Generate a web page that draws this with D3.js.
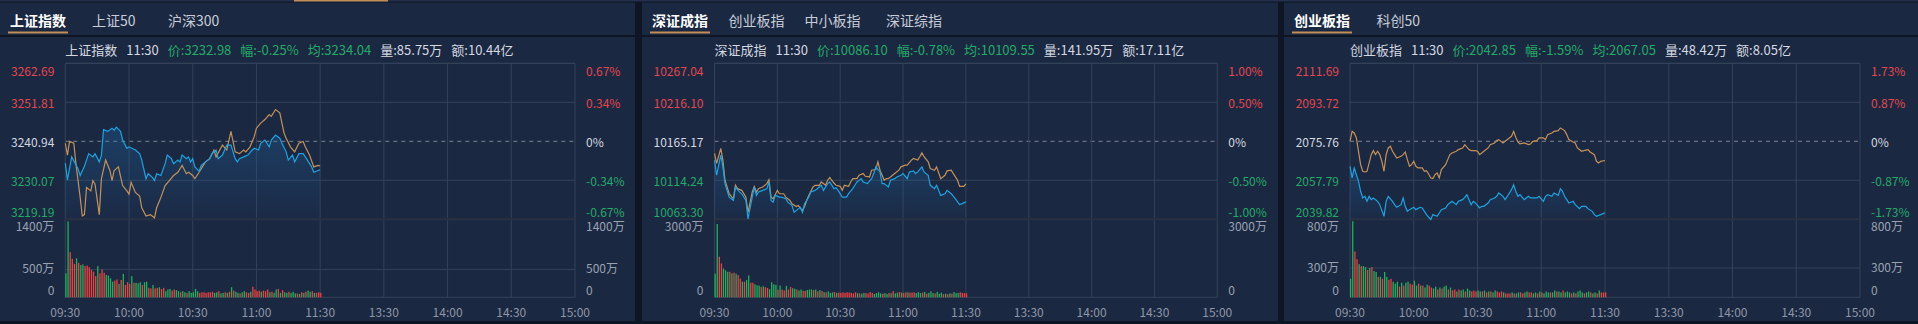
<!DOCTYPE html>
<html><head><meta charset="utf-8">
<script src="https://cdn.jsdelivr.net/npm/d3@7"></script>
<style>
html,body{margin:0;padding:0;background:#0e1524;overflow:hidden}
svg{display:block;font-family:"Noto Sans CJK SC","Noto Sans",sans-serif}
</style>
</head><body>
<svg id="c" width="1918" height="324"></svg>
<script>
// ---------- DATA ----------
const timeTicks = [0, 30, 60, 90, 120, 150, 180, 210, 240];
const timeLabels = ["09:30", "10:00", "10:30", "11:00", "11:30", "13:30", "14:00", "14:30", "15:00"];

// Panel 1: 上证指数
const shTabs = ["上证指数", "上证50", "沪深300"];
const shInfo = [["上证指数", "n"], ["11:30", "n"], ["价:3232.98", "g"], ["幅:-0.25%", "g"], ["均:3234.04", "g"], ["量:85.75万", "n"], ["额:10.44亿", "n"]];
const shPriceTicks = [3219.19, 3230.07, 3240.94, 3251.81, 3262.69];
const shPriceLabels = ["3219.19", "3230.07", "3240.94", "3251.81", "3262.69"];
const shPctLabels = ["-0.67%", "-0.34%", "0%", "0.34%", "0.67%"];
const shVolTicks = [0, 500, 1400];
const shVolLabels = ["0", "500万", "1400万"];
const shPrice = [[0,3234.9],[1,3230.2],[3,3236.6],[6,3233.3],[7,3231.4],[9,3234.0],[11,3237.5],[13,3236.6],[14,3237.5],[16,3235.2],[17,3237.0],[18,3244.2],[20,3243.7],[22,3244.6],[23,3244.0],[24,3244.9],[26,3243.7],[27,3241.3],[29,3239.0],[30,3239.4],[33,3238.5],[35,3237.5],[36,3235.7],[38,3230.5],[39,3231.9],[41,3230.9],[42,3230.0],[43,3231.9],[45,3231.4],[47,3234.7],[48,3237.1],[50,3236.1],[51,3234.7],[53,3235.7],[54,3235.2],[55,3237.1],[57,3236.1],[58,3236.6],[59,3235.2],[60,3236.1],[61,3233.8],[63,3232.6],[64,3234.2],[66,3235.2],[68,3236.1],[69,3237.5],[71,3238.5],[72,3236.1],[74,3237.1],[76,3239.9],[78,3239.9],[80,3236.1],[81,3235.2],[82,3236.1],[84,3236.6],[86,3237.1],[88,3238.5],[89,3239.0],[91,3238.5],[92,3240.4],[94,3241.3],[96,3239.4],[97,3241.3],[99,3242.7],[101,3241.8],[102,3240.4],[104,3238.0],[105,3235.7],[107,3237.1],[108,3235.2],[110,3237.5],[112,3237.5],[114,3235.7],[116,3233.8],[117,3232.3],[119,3232.8],[120,3232.98]];
const shAvg = [[0,3240.4],[1,3237.1],[2,3240.9],[4,3240.4],[5,3234.7],[7,3225.3],[8,3220.1],[9,3220.5],[10,3228.1],[12,3227.1],[13,3230.0],[14,3229.0],[16,3220.5],[17,3230.5],[19,3235.7],[21,3232.8],[22,3230.0],[23,3232.8],[25,3233.8],[27,3228.6],[29,3227.1],[30,3226.2],[31,3229.5],[33,3226.7],[35,3225.7],[36,3222.4],[38,3220.1],[40,3220.5],[42,3219.6],[43,3222.4],[45,3225.3],[47,3228.6],[49,3230.0],[51,3231.4],[53,3232.3],[55,3234.2],[57,3231.9],[58,3232.3],[60,3231.4],[61,3230.5],[63,3232.3],[66,3235.2],[68,3236.1],[70,3238.5],[71,3236.6],[74,3239.9],[76,3238.5],[78,3243.7],[80,3238.0],[82,3237.5],[84,3238.5],[85,3238.0],[87,3239.4],[89,3242.3],[90,3244.6],[92,3246.0],[94,3247.0],[96,3248.4],[97,3247.9],[99,3249.8],[101,3248.9],[103,3243.2],[104,3241.8],[106,3239.4],[108,3238.0],[110,3240.4],[112,3240.9],[113,3239.4],[115,3237.1],[117,3233.8],[119,3234.2],[120,3234.04]];
const shVol = [430,1360,810,690,600,700,620,580,590,560,570,
  540,490,460,380,560,430,500,440,400,390,
  340,280,300,320,240,310,420,220,270,240,
  380,260,260,250,270,220,270,280,170,160,
  220,160,170,180,150,170,110,140,150,120,
  140,130,110,90,110,90,80,110,80,90,
  150,110,80,90,90,80,90,90,100,80,
  90,110,70,80,90,80,100,180,120,100,
  80,70,90,110,90,80,100,190,140,110,
  120,100,120,110,140,90,100,80,140,150,
  80,130,90,80,100,80,100,70,70,60,
  90,80,100,120,100,110,80,80,90,80];
const shVolDir = "ggrrrgrggrr" + "rrrrgrrrgg" + "ggrrgrgrrr" + "grgggrggrr" + "grrgrrgggr" + "rggrggrggg" + "ggrrrrrrrg" + "grggrgrgrg" + "grggrrgrrr" + "rgrrrgrggr" + "grggrgggrg" + "rgrggrgrrr";

// Panel 2: 深证成指
const szTabs = ["深证成指", "创业板指", "中小板指", "深证综指"];
const szInfo = [["深证成指", "n"], ["11:30", "n"], ["价:10086.10", "g"], ["幅:-0.78%", "g"], ["均:10109.55", "g"], ["量:141.95万", "n"], ["额:17.11亿", "n"]];
const szPriceTicks = [10063.30, 10114.24, 10165.17, 10216.10, 10267.04];
const szPriceLabels = ["10063.30", "10114.24", "10165.17", "10216.10", "10267.04"];
const szPctLabels = ["-1.00%", "-0.50%", "0%", "0.50%", "1.00%"];
const szVolTicks = [0, 3000];
const szVolLabels = ["0", "3000万"];
const szPrice = [[0,10140.6],[1,10120.8],[3,10147.2],[4,10131.8],[5,10109.9],[7,10092.3],[9,10087.9],[10,10105.4],[12,10098.8],[13,10096.6],[15,10087.9],[16,10063.7],[18,10092.3],[19,10105.4],[20,10094.5],[21,10098.9],[23,10101.1],[25,10103.3],[26,10112.1],[27,10087.9],[28,10085.7],[29,10094.5],[31,10092.3],[32,10092.3],[34,10090.1],[35,10085.7],[37,10081.3],[38,10072.5],[40,10076.9],[41,10079.1],[42,10072.5],[43,10083.5],[45,10092.3],[46,10098.9],[48,10101.1],[49,10103.3],[51,10107.7],[52,10101.1],[54,10109.9],[55,10112.1],[57,10103.3],[58,10104.6],[59,10101.1],[61,10092.3],[63,10092.3],[64,10096.7],[66,10103.3],[67,10107.7],[68,10112.1],[70,10116.4],[71,10112.1],[73,10109.9],[75,10116.4],[76,10123.0],[77,10131.8],[79,10125.2],[80,10109.9],[81,10109.9],[83,10105.5],[84,10114.3],[86,10116.4],[87,10118.6],[89,10120.8],[90,10123.0],[92,10116.4],[93,10125.2],[95,10126.5],[96,10123.0],[97,10125.2],[99,10131.8],[100,10125.2],[102,10120.8],[103,10107.7],[105,10103.3],[106,10107.7],[108,10094.5],[110,10096.7],[111,10101.1],[113,10096.7],[115,10090.1],[117,10082.6],[118,10083.5],[120,10086.10]];
const szAvg = [[0,10149.4],[1,10136.2],[3,10155.9],[4,10140.6],[5,10114.3],[7,10096.7],[9,10090.1],[10,10107.7],[11,10103.3],[13,10101.1],[15,10092.3],[16,10072.5],[18,10098.9],[19,10106.3],[20,10098.9],[21,10103.3],[23,10105.5],[25,10109.9],[26,10115.1],[27,10092.3],[28,10090.1],[30,10101.1],[31,10096.7],[33,10096.7],[34,10092.3],[36,10087.9],[37,10083.5],[39,10080.0],[40,10081.3],[42,10074.7],[43,10080.0],[44,10087.9],[45,10094.5],[47,10105.5],[48,10107.7],[50,10107.7],[51,10112.1],[53,10107.7],[54,10114.3],[55,10117.8],[57,10110.7],[58,10107.7],[60,10106.3],[61,10101.1],[62,10107.7],[64,10106.3],[65,10112.1],[66,10116.4],[68,10116.4],[69,10120.8],[71,10123.0],[72,10119.5],[74,10118.6],[75,10127.4],[77,10128.3],[78,10138.4],[79,10127.4],[81,10114.3],[82,10116.4],[83,10116.4],[85,10120.8],[86,10123.0],[88,10127.4],[89,10131.8],[91,10134.0],[92,10134.0],[94,10140.6],[95,10142.8],[97,10140.6],[98,10145.0],[99,10150.2],[100,10145.0],[102,10138.4],[103,10129.6],[105,10127.4],[106,10131.8],[108,10116.4],[110,10120.8],[111,10126.5],[113,10127.4],[114,10123.0],[116,10114.3],[117,10106.3],[119,10106.3],[120,10109.55]];
const szVol = [910,2820,1560,1300,1110,1040,980,980,920,950,910,
  850,720,600,600,660,840,560,560,500,460,
  450,400,420,390,360,310,580,500,480,290,
  450,300,260,440,300,400,350,330,300,260,
  300,250,250,280,300,300,280,300,230,280,
  240,200,190,230,170,190,200,170,180,170,
  190,170,190,180,170,150,190,160,150,140,
  170,160,150,200,170,130,160,190,150,140,
  160,130,170,160,240,150,180,200,180,170,
  190,190,180,180,190,160,200,160,180,210,
  140,170,230,160,150,210,140,180,120,140,
  120,150,140,200,160,170,190,170,160,150];
const szVolDir = "ggrrgggrgrg" + "rrgrggrrgg" + "grgrrggggr" + "grrgrrggrg" + "grrgggrgrg" + "rgrgggrgrr" + "rrrrrrrgrg" + "grrrrggggr" + "ggrgrggrgr" + "rgrrrgggrg" + "rgggrgggrg" + "rgrgggrrrr";

// Panel 3: 创业板指
const cyTabs = ["创业板指", "科创50"];
const cyInfo = [["创业板指", "n"], ["11:30", "n"], ["价:2042.85", "g"], ["幅:-1.59%", "g"], ["均:2067.05", "g"], ["量:48.42万", "n"], ["额:8.05亿", "n"]];
const cyPriceTicks = [2039.82, 2057.79, 2075.76, 2093.72, 2111.69];
const cyPriceLabels = ["2039.82", "2057.79", "2075.76", "2093.72", "2111.69"];
const cyPctLabels = ["-1.73%", "-0.87%", "0%", "0.87%", "1.73%"];
const cyVolTicks = [0, 300, 800];
const cyVolLabels = ["0", "300万", "800万"];
const cyPrice = [[0,2064.24],[1,2058.86],[2,2063.47],[4,2057.33],[5,2052.72],[6,2049.65],[7,2050.41],[8,2048.11],[9,2050.41],[10,2048.88],[11,2049.65],[13,2048.11],[14,2046.57],[16,2041.20],[17,2048.11],[18,2050.41],[20,2048.11],[21,2046.57],[22,2045.35],[24,2046.57],[25,2049.65],[26,2045.81],[27,2043.50],[28,2044.27],[30,2045.35],[31,2044.27],[33,2045.35],[34,2045.04],[35,2043.50],[36,2041.97],[38,2039.66],[39,2041.97],[41,2041.20],[42,2042.74],[43,2044.27],[45,2045.04],[46,2046.57],[47,2047.34],[48,2048.11],[50,2046.57],[51,2048.11],[53,2048.88],[54,2049.95],[55,2051.18],[57,2046.57],[58,2048.11],[59,2047.34],[61,2045.04],[62,2045.81],[63,2045.81],[65,2047.34],[66,2048.88],[68,2049.65],[69,2050.41],[70,2051.95],[72,2050.41],[73,2048.88],[75,2051.95],[76,2053.49],[77,2055.79],[78,2052.72],[79,2050.41],[80,2051.18],[82,2048.88],[84,2050.41],[85,2049.65],[86,2049.65],[88,2049.65],[89,2050.41],[91,2048.11],[92,2050.41],[93,2051.18],[95,2050.41],[96,2051.95],[98,2050.87],[99,2053.95],[100,2052.72],[101,2050.41],[102,2048.88],[103,2047.34],[105,2048.11],[106,2046.57],[108,2044.73],[109,2045.81],[111,2045.81],[112,2044.73],[114,2043.50],[115,2041.97],[116,2041.20],[118,2041.97],[120,2042.85]];
const cyAvg = [[0,2075.76],[1,2080.37],[2,2079.60],[3,2077.30],[4,2071.15],[5,2065.01],[6,2061.94],[7,2061.63],[8,2061.94],[10,2069.62],[11,2071.46],[12,2069.62],[13,2071.15],[14,2069.62],[15,2066.54],[16,2061.94],[17,2069.62],[18,2072.69],[19,2073.46],[20,2071.15],[21,2069.62],[22,2068.08],[24,2068.85],[25,2069.62],[26,2070.84],[27,2067.31],[28,2064.24],[29,2065.01],[30,2066.54],[31,2064.24],[32,2063.47],[34,2063.47],[35,2061.94],[36,2062.24],[37,2060.71],[38,2058.86],[39,2058.56],[40,2060.40],[41,2061.17],[42,2058.86],[43,2062.70],[45,2065.01],[46,2067.31],[47,2069.62],[48,2070.38],[50,2071.15],[51,2071.92],[53,2072.69],[54,2074.22],[56,2071.92],[57,2071.46],[59,2071.46],[60,2071.15],[61,2069.62],[62,2070.38],[63,2071.15],[65,2072.69],[66,2074.22],[68,2074.99],[69,2076.07],[70,2076.53],[72,2074.99],[73,2075.76],[75,2077.30],[76,2078.06],[77,2080.37],[78,2077.60],[79,2075.45],[80,2074.53],[82,2074.99],[84,2074.22],[85,2074.53],[86,2075.76],[88,2076.07],[89,2077.30],[91,2077.30],[92,2076.53],[93,2078.83],[95,2079.60],[96,2080.37],[98,2080.68],[99,2081.90],[101,2080.68],[102,2078.83],[103,2076.53],[105,2075.45],[106,2074.99],[107,2072.69],[109,2071.15],[110,2071.46],[112,2071.92],[113,2070.84],[115,2069.62],[116,2066.54],[117,2065.78],[118,2066.54],[120,2066.90]];
const cyVol = [190,780,470,390,340,320,320,310,280,300,310,
  270,260,210,210,190,260,210,180,190,160,
  140,160,110,150,120,150,160,140,130,170,
  120,140,120,120,100,130,120,100,90,110,
  80,100,90,110,120,80,100,70,80,60,
  80,70,80,60,90,70,60,70,60,70,
  60,60,70,50,60,60,50,70,60,50,
  60,50,40,40,40,50,40,40,50,50,
  40,50,60,50,50,40,50,40,60,50,
  40,60,50,50,50,70,60,60,50,70,
  50,60,50,40,50,40,60,70,50,40,
  50,60,50,40,50,40,70,50,50,50];
const cyVolDir = "ggrrgrggrgr" + "ggrgrggrrg" + "ggrgrggrrg" + "grgrggrrgg" + "rgrggrgrrg" + "rggrggrrrg" + "grgrgrggrr" + "rgrrrgrggr" + "rggrrggrgr" + "gggrggrggr" + "gggrgrgggr" + "ggrggrgrrr";

// ---------- LAYOUT / STYLE ----------
const C = {
  bg: "#1b2842", dark: "#0e1524", grid: "#344159", sep: "#2a3142",
  red: "#e2474d", green: "#22aa68", light: "#d4d8e0", gray: "#99a2b1", time: "#8e97a7",
  tab: "#c7cdd8", under: "#c38d57", price: "#1ca3e0", avg: "#c59159"
};
const Y = { pTop: 63.3, pBot: 219.3, vTop: 219.3, vBot: 297.3, time: 311.7 };

const panels = [
  { x0: 0, w: 635, left: 65.3, right: 575, tabs: shTabs, tabX: [10, 92, 168], info: shInfo,
    pt: shPriceTicks, pl: shPriceLabels, pc: shPctLabels, vt: shVolTicks, vl: shVolLabels,
    price: shPrice, avg: shAvg, vol: shVol, dir: shVolDir },
  { x0: 642, w: 636, left: 714.5, right: 1217.3, tabs: szTabs, tabX: [652, 728.5, 804.5, 886], info: szInfo,
    pt: szPriceTicks, pl: szPriceLabels, pc: szPctLabels, vt: szVolTicks, vl: szVolLabels,
    price: szPrice, avg: szAvg, vol: szVol, dir: szVolDir },
  { x0: 1284, w: 634, left: 1350, right: 1860, tabs: cyTabs, tabX: [1294, 1376.5], info: cyInfo,
    pt: cyPriceTicks, pl: cyPriceLabels, pc: cyPctLabels, vt: cyVolTicks, vl: cyVolLabels,
    price: cyPrice, avg: cyAvg, vol: cyVol, dir: cyVolDir }
];

const svg = d3.select("#c");
const defs = svg.append("defs");
const grad = defs.append("linearGradient").attr("id", "areaGrad").attr("x1", 0).attr("y1", 0).attr("x2", 0).attr("y2", 1);
grad.append("stop").attr("offset", "0%").attr("stop-color", "#1f6fb0").attr("stop-opacity", 0.32);
grad.append("stop").attr("offset", "100%").attr("stop-color", "#1f6fb0").attr("stop-opacity", 0.03);

svg.append("rect").attr("width", 1918).attr("height", 324).attr("fill", C.dark);
// top navigation strip
svg.append("rect").attr("x", 0).attr("y", 0).attr("width", 1918).attr("height", 1.5).attr("fill", "#22304b");
svg.append("rect").attr("x", 294).attr("y", 0).attr("width", 94).attr("height", 1.5).attr("fill", C.under);

panels.forEach((p, pi) => {
  const g = svg.append("g");
  g.append("rect").attr("x", p.x0).attr("y", 2.5).attr("width", p.w).attr("height", 318.5).attr("fill", C.bg);
  g.append("rect").attr("x", p.x0).attr("y", 35).attr("width", p.w).attr("height", 2).attr("fill", C.dark);

  // tabs
  p.tabs.forEach((t, i) => {
    g.append("text").attr("x", p.tabX[i]).attr("y", 20).attr("dominant-baseline", "central")
      .attr("font-size", 14).attr("font-weight", i === 0 ? 700 : 400)
      .attr("fill", i === 0 ? "#ffffff" : C.tab).text(t);
  });
  g.append("rect").attr("x", p.tabX[0] - 2).attr("y", 31.5).attr("width", 60).attr("height", 2).attr("fill", C.under);

  // info line
  let ix = p.left;
  p.info.forEach(([t, c]) => {
    const tx = g.append("text").attr("x", ix).attr("y", 49).attr("dominant-baseline", "central")
      .attr("font-size", 13).attr("fill", c === "g" ? C.green : C.light).text(t);
    ix += tx.node().getComputedTextLength() + 9;
  });

  const x = d3.scaleLinear().domain([0, 240]).range([p.left, p.right]);
  const y = d3.scaleLinear().domain([p.pt[0], p.pt[p.pt.length - 1]]).range([Y.pBot, Y.pTop]);
  const yv = d3.scaleLinear().domain([0, p.vt[p.vt.length - 1]]).range([Y.vBot, Y.vTop]);

  // horizontal grid (price)
  p.pt.forEach((v, i) => {
    if (i === 2) {
      g.append("line").attr("x1", p.left).attr("x2", p.right).attr("y1", y(v)).attr("y2", y(v))
        .attr("stroke", "#7d8492").attr("stroke-dasharray", "4,4").attr("stroke-width", 1);
    } else if (i !== 0) {
      g.append("line").attr("x1", p.left).attr("x2", p.right).attr("y1", y(v)).attr("y2", y(v))
        .attr("stroke", C.grid).attr("stroke-width", 1);
    }
  });
  // volume mid grid
  p.vt.forEach((v, i) => {
    if (i > 0 && i < p.vt.length - 1) {
      g.append("line").attr("x1", p.left).attr("x2", p.right).attr("y1", yv(v)).attr("y2", yv(v))
        .attr("stroke", C.grid).attr("stroke-width", 1);
    }
  });
  // vertical grid
  timeTicks.forEach((t) => {
    g.append("line").attr("x1", x(t)).attr("x2", x(t)).attr("y1", Y.pTop).attr("y2", Y.vBot)
      .attr("stroke", C.grid).attr("stroke-width", 1);
  });
  // frame
  g.append("line").attr("x1", p.left).attr("x2", p.right).attr("y1", Y.pTop).attr("y2", Y.pTop).attr("stroke", C.grid);
  g.append("line").attr("x1", p.left).attr("x2", p.right).attr("y1", Y.vBot).attr("y2", Y.vBot).attr("stroke", C.grid);
  g.append("line").attr("x1", p.left).attr("x2", p.right).attr("y1", Y.pBot).attr("y2", Y.pBot).attr("stroke", C.sep).attr("stroke-width", 2);

  // price labels
  const n = p.pt.length;
  p.pt.forEach((v, i) => {
    const off = i === n - 1 ? 7 : (i === 0 ? -7.5 : 0);
    const col = i > 2 ? C.red : (i < 2 ? C.green : C.light);
    g.append("text").attr("x", p.left - 11).attr("y", y(v) + off).attr("text-anchor", "end")
      .attr("dominant-baseline", "central").attr("font-size", 12).attr("fill", col).text(p.pl[i]);
    g.append("text").attr("x", p.right + 11).attr("y", y(v) + off).attr("text-anchor", "start")
      .attr("dominant-baseline", "central").attr("font-size", 12).attr("fill", col).text(p.pc[i]);
  });
  // volume labels
  const m = p.vt.length;
  p.vt.forEach((v, i) => {
    const off = i === m - 1 ? 6.5 : (i === 0 ? -8 : -1.5);
    [[p.left - 11, "end"], [p.right + 11, "start"]].forEach(([lx, an]) => {
      g.append("text").attr("x", lx).attr("y", yv(v) + off).attr("text-anchor", an)
        .attr("dominant-baseline", "central").attr("font-size", 12).attr("fill", C.gray).text(p.vl[i]);
    });
  });
  // time labels
  timeTicks.forEach((t, i) => {
    g.append("text").attr("x", x(t)).attr("y", Y.time).attr("text-anchor", "middle")
      .attr("dominant-baseline", "central").attr("font-size", 12).attr("fill", C.time).text(timeLabels[i]);
  });

  // volume bars
  g.selectAll(null).data(p.vol).enter().append("rect")
    .attr("x", (d, i) => x(i)).attr("width", 1.3)
    .attr("y", d => yv(d)).attr("height", d => Y.vBot - yv(d))
    .attr("fill", (d, i) => p.dir[i] === "r" ? "#ef4040" : "#20b25a");

  // area + lines
  const area = d3.area().x(d => x(d[0])).y0(Y.pBot).y1(d => y(d[1]));
  g.append("path").datum(p.price).attr("d", area).attr("fill", "url(#areaGrad)");
  const line = d3.line().x(d => x(d[0])).y(d => y(d[1]));
  g.append("path").datum(p.avg).attr("d", line).attr("fill", "none").attr("stroke", C.avg).attr("stroke-width", 1.2);
  g.append("path").datum(p.price).attr("d", line).attr("fill", "none").attr("stroke", C.price).attr("stroke-width", 1.2);
});
</script>
</body></html>
